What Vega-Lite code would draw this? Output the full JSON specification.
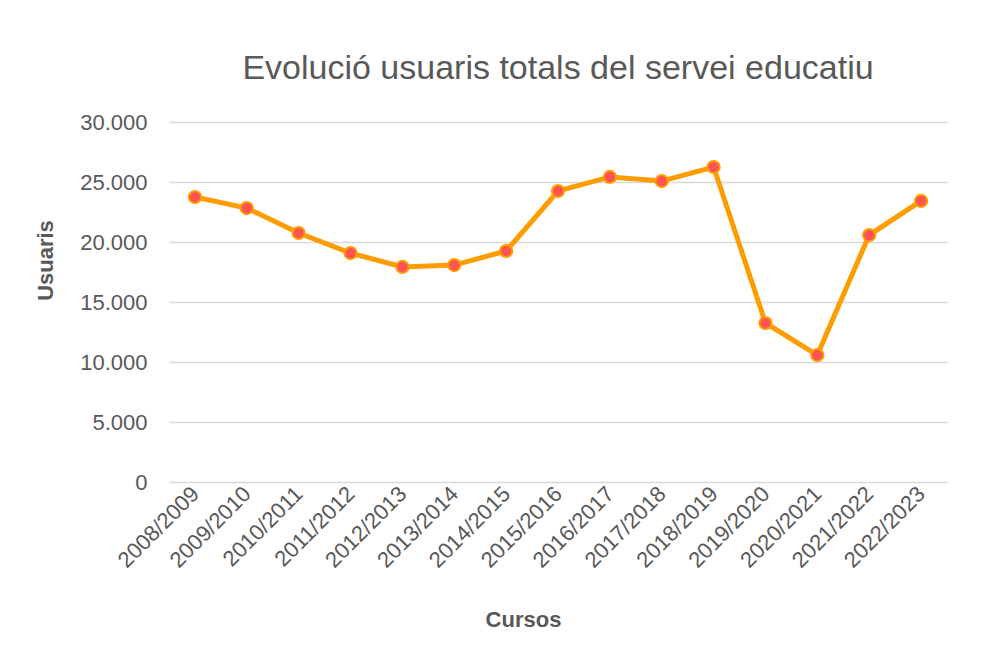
{
  "$schema": "https://vega.github.io/schema/vega-lite/v6.json",
  "autosize": "none",
  "width": 778,
  "height": 360,
  "padding": {"left": 169, "top": 122, "right": 46, "bottom": 186},
  "background": "white",
  "title": {
    "text": "Evolució usuaris totals del servei educatiu",
    "font": "Liberation Sans",
    "fontSize": 34,
    "fontWeight": "normal",
    "color": "#595959",
    "anchor": "middle",
    "offset": 25
  },
  "data": {
    "values": [
      {"curs": "2008/2009", "usuaris": 23750},
      {"curs": "2009/2010", "usuaris": 22830},
      {"curs": "2010/2011", "usuaris": 20750},
      {"curs": "2011/2012", "usuaris": 19080},
      {"curs": "2012/2013", "usuaris": 17920},
      {"curs": "2013/2014", "usuaris": 18080},
      {"curs": "2014/2015", "usuaris": 19250},
      {"curs": "2015/2016", "usuaris": 24250},
      {"curs": "2016/2017", "usuaris": 25420},
      {"curs": "2017/2018", "usuaris": 25080},
      {"curs": "2018/2019", "usuaris": 26250},
      {"curs": "2019/2020", "usuaris": 13250},
      {"curs": "2020/2021", "usuaris": 10580},
      {"curs": "2021/2022", "usuaris": 20580},
      {"curs": "2022/2023", "usuaris": 23420}
    ]
  },
  "encoding": {
    "x": {
      "field": "curs",
      "type": "nominal",
      "sort": null,
      "scale": {"type": "point", "padding": 0.5},
      "axis": {
        "title": "Cursos",
        "titleFont": "Liberation Sans",
        "titleFontSize": 22,
        "titleFontWeight": "bold",
        "titleColor": "#595959",
        "titlePadding": 38,
        "titleX": 354,
        "labelFont": "Liberation Sans",
        "labelFontSize": 22,
        "labelColor": "#595959",
        "labelAngle": -45,
        "labelAlign": "right",
        "labelBaseline": "middle",
        "labelPadding": 8,
        "ticks": false,
        "domain": false,
        "grid": false
      }
    },
    "y": {
      "field": "usuaris",
      "type": "quantitative",
      "scale": {"domain": [0, 30000], "nice": false},
      "axis": {
        "title": "Usuaris",
        "titleFont": "Liberation Sans",
        "titleFontSize": 22,
        "titleFontWeight": "bold",
        "titleColor": "#595959",
        "titlePadding": 22,
        "titleY": 138,
        "values": [0, 5000, 10000, 15000, 20000, 25000, 30000],
        "labelExpr": "replace(format(datum.value, ','), ',', '.')",
        "labelFont": "Liberation Sans",
        "labelFontSize": 22,
        "labelColor": "#595959",
        "labelPadding": 22,
        "ticks": false,
        "domain": false,
        "grid": true,
        "gridColor": "#D9D9D9",
        "gridWidth": 1.5
      }
    }
  },
  "layer": [
    {
      "mark": {"type": "line", "color": "#FF9C00", "strokeWidth": 5}
    },
    {
      "mark": {"type": "point", "filled": true, "fill": "#FF5252", "stroke": "#FF9C00", "strokeWidth": 2, "size": 150, "opacity": 1}
    }
  ],
  "config": {"view": {"stroke": null}}
}
